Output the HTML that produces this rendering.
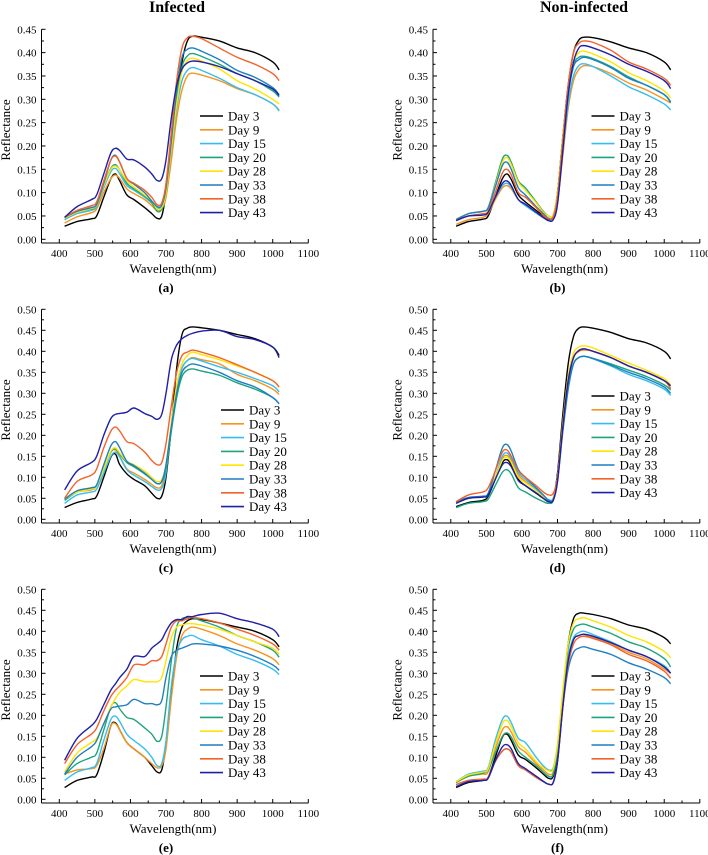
<!DOCTYPE html>
<html><head><meta charset="utf-8">
<style>
html,body{margin:0;padding:0;background:#fff;}
svg{display:block;}
svg text{font-family:"Liberation Serif","DejaVu Serif",serif;}
</style></head>
<body>
<svg id="fig" width="708" height="855" viewBox="0 0 708 855" xmlns="http://www.w3.org/2000/svg" font-family="'Liberation Serif', serif">
<text x="177" y="12" text-anchor="middle" font-size="16" font-weight="bold" font-family="'Liberation Serif', serif">Infected</text>
<text x="584" y="12" text-anchor="middle" font-size="16" font-weight="bold" font-family="'Liberation Serif', serif">Non-infected</text>
</svg>
<script>
const wavelengths = [415,450,490,505,525,545,558,570,590,610,640,660,675,688,700,715,730,745,760,775,800,850,900,950,1000,1018];
const dayLabels = ["Day 3","Day 9","Day 15","Day 20","Day 28","Day 33","Day 38","Day 43"];
const dayColors = ["#000000","#f7941d","#36bdf0","#1ca57c","#ffe400","#1f7fc4","#f2622a","#1f1fa8"];
const xTicks = [400,500,600,700,800,900,1000,1100];

const panelA = [
[0.028,0.038,0.044,0.05,0.09,0.13,0.14,0.125,0.095,0.085,0.068,0.055,0.045,0.05,0.1,0.2,0.3,0.38,0.425,0.435,0.433,0.425,0.41,0.4,0.38,0.363],
[0.035,0.048,0.057,0.065,0.1,0.13,0.138,0.13,0.108,0.098,0.085,0.072,0.062,0.065,0.09,0.17,0.26,0.32,0.35,0.356,0.352,0.34,0.323,0.31,0.29,0.277],
[0.042,0.055,0.062,0.07,0.11,0.145,0.152,0.14,0.115,0.105,0.09,0.078,0.068,0.07,0.1,0.19,0.28,0.34,0.362,0.368,0.362,0.345,0.325,0.31,0.29,0.275],
[0.045,0.058,0.065,0.072,0.115,0.152,0.16,0.148,0.12,0.108,0.093,0.078,0.06,0.065,0.1,0.2,0.3,0.37,0.393,0.398,0.392,0.375,0.355,0.34,0.318,0.305],
[0.045,0.058,0.066,0.073,0.115,0.15,0.157,0.148,0.125,0.112,0.095,0.082,0.065,0.068,0.1,0.195,0.29,0.36,0.383,0.388,0.382,0.365,0.34,0.322,0.3,0.29],
[0.047,0.06,0.068,0.075,0.12,0.17,0.18,0.165,0.13,0.118,0.1,0.082,0.07,0.073,0.11,0.21,0.32,0.39,0.407,0.41,0.403,0.385,0.362,0.347,0.325,0.31],
[0.047,0.062,0.072,0.08,0.125,0.17,0.178,0.165,0.13,0.12,0.105,0.09,0.074,0.078,0.12,0.23,0.34,0.41,0.432,0.435,0.43,0.41,0.39,0.375,0.355,0.34],
[0.047,0.07,0.085,0.095,0.14,0.185,0.195,0.19,0.172,0.17,0.155,0.14,0.126,0.13,0.17,0.26,0.33,0.365,0.378,0.382,0.38,0.37,0.355,0.34,0.322,0.308]];
const panelB = [
[0.028,0.038,0.043,0.05,0.09,0.13,0.14,0.128,0.095,0.08,0.062,0.05,0.042,0.05,0.1,0.22,0.33,0.4,0.427,0.433,0.432,0.423,0.41,0.4,0.38,0.363],
[0.032,0.042,0.047,0.055,0.085,0.11,0.115,0.108,0.085,0.075,0.058,0.048,0.04,0.045,0.08,0.18,0.28,0.34,0.364,0.372,0.37,0.355,0.335,0.32,0.3,0.292],
[0.042,0.055,0.06,0.065,0.09,0.115,0.12,0.112,0.085,0.072,0.056,0.046,0.04,0.045,0.085,0.19,0.29,0.35,0.372,0.376,0.37,0.35,0.327,0.31,0.29,0.277],
[0.043,0.055,0.06,0.068,0.12,0.172,0.18,0.165,0.125,0.11,0.08,0.06,0.05,0.052,0.1,0.22,0.32,0.375,0.39,0.392,0.387,0.37,0.348,0.33,0.31,0.295],
[0.043,0.055,0.06,0.067,0.115,0.165,0.175,0.16,0.122,0.105,0.078,0.058,0.05,0.052,0.1,0.22,0.32,0.38,0.4,0.403,0.397,0.38,0.357,0.34,0.318,0.303],
[0.042,0.055,0.06,0.067,0.112,0.158,0.165,0.15,0.11,0.095,0.07,0.055,0.045,0.048,0.09,0.21,0.31,0.37,0.385,0.39,0.385,0.368,0.345,0.33,0.31,0.293],
[0.04,0.05,0.055,0.06,0.1,0.142,0.15,0.138,0.1,0.09,0.068,0.052,0.044,0.048,0.09,0.21,0.33,0.4,0.42,0.425,0.422,0.405,0.38,0.365,0.345,0.33],
[0.04,0.05,0.052,0.058,0.09,0.12,0.125,0.115,0.085,0.075,0.058,0.047,0.04,0.042,0.075,0.19,0.31,0.38,0.41,0.415,0.41,0.395,0.375,0.36,0.34,0.323]];
const panelC = [
[0.028,0.04,0.048,0.055,0.1,0.148,0.155,0.13,0.108,0.095,0.08,0.062,0.05,0.055,0.1,0.22,0.36,0.44,0.455,0.458,0.456,0.45,0.44,0.43,0.41,0.39],
[0.048,0.065,0.07,0.08,0.12,0.16,0.165,0.15,0.12,0.11,0.095,0.083,0.075,0.08,0.12,0.22,0.31,0.36,0.378,0.385,0.38,0.37,0.345,0.33,0.31,0.297],
[0.038,0.058,0.065,0.072,0.11,0.15,0.16,0.148,0.118,0.105,0.09,0.078,0.07,0.074,0.11,0.22,0.31,0.36,0.378,0.383,0.377,0.363,0.35,0.335,0.318,0.303],
[0.045,0.065,0.075,0.08,0.12,0.16,0.168,0.155,0.135,0.125,0.108,0.095,0.085,0.09,0.12,0.21,0.29,0.34,0.355,0.358,0.353,0.343,0.325,0.31,0.29,0.275],
[0.048,0.065,0.072,0.08,0.12,0.162,0.17,0.158,0.138,0.13,0.115,0.1,0.09,0.095,0.13,0.23,0.32,0.37,0.39,0.398,0.392,0.38,0.365,0.35,0.33,0.315],
[0.048,0.068,0.075,0.082,0.13,0.175,0.185,0.17,0.138,0.128,0.11,0.095,0.085,0.09,0.13,0.22,0.3,0.35,0.365,0.37,0.365,0.35,0.33,0.315,0.29,0.275],
[0.05,0.09,0.105,0.12,0.17,0.21,0.22,0.21,0.185,0.18,0.16,0.14,0.13,0.135,0.18,0.27,0.35,0.39,0.398,0.403,0.398,0.385,0.368,0.35,0.33,0.315],
[0.07,0.115,0.135,0.15,0.2,0.24,0.25,0.252,0.255,0.265,0.252,0.245,0.238,0.25,0.3,0.38,0.415,0.43,0.438,0.443,0.448,0.45,0.435,0.428,0.41,0.385]];
const panelD = [
[0.03,0.04,0.045,0.055,0.095,0.135,0.142,0.13,0.095,0.08,0.062,0.05,0.042,0.05,0.11,0.25,0.37,0.435,0.455,0.458,0.455,0.445,0.43,0.42,0.4,0.382],
[0.04,0.05,0.055,0.06,0.1,0.145,0.152,0.14,0.105,0.09,0.07,0.055,0.045,0.05,0.1,0.22,0.33,0.385,0.4,0.403,0.4,0.385,0.365,0.35,0.33,0.31],
[0.04,0.05,0.053,0.058,0.1,0.15,0.158,0.145,0.11,0.095,0.072,0.057,0.047,0.05,0.1,0.21,0.31,0.37,0.385,0.388,0.382,0.365,0.345,0.33,0.31,0.295],
[0.028,0.038,0.042,0.048,0.08,0.112,0.118,0.108,0.075,0.065,0.05,0.042,0.038,0.045,0.1,0.22,0.32,0.37,0.385,0.388,0.383,0.37,0.355,0.34,0.32,0.308],
[0.038,0.05,0.053,0.06,0.1,0.14,0.148,0.135,0.1,0.087,0.068,0.053,0.043,0.05,0.1,0.23,0.34,0.395,0.41,0.413,0.408,0.39,0.372,0.355,0.335,0.32],
[0.042,0.052,0.055,0.062,0.115,0.17,0.178,0.162,0.118,0.1,0.075,0.058,0.045,0.048,0.09,0.21,0.31,0.37,0.385,0.388,0.383,0.367,0.35,0.335,0.315,0.3],
[0.042,0.058,0.065,0.075,0.115,0.16,0.165,0.15,0.115,0.1,0.08,0.065,0.058,0.062,0.1,0.22,0.33,0.385,0.4,0.405,0.4,0.385,0.365,0.35,0.33,0.312],
[0.038,0.05,0.053,0.058,0.095,0.13,0.135,0.125,0.092,0.08,0.063,0.05,0.042,0.045,0.09,0.22,0.33,0.385,0.402,0.406,0.4,0.385,0.365,0.35,0.33,0.318]];
const panelE = [
[0.028,0.045,0.053,0.058,0.11,0.175,0.182,0.165,0.135,0.12,0.1,0.08,0.065,0.07,0.13,0.25,0.36,0.41,0.425,0.43,0.428,0.42,0.41,0.4,0.38,0.363],
[0.06,0.07,0.073,0.08,0.12,0.175,0.18,0.165,0.135,0.12,0.1,0.085,0.075,0.08,0.12,0.24,0.34,0.39,0.405,0.41,0.405,0.39,0.37,0.355,0.335,0.32],
[0.045,0.065,0.075,0.085,0.14,0.19,0.198,0.185,0.155,0.14,0.12,0.1,0.08,0.085,0.14,0.27,0.35,0.38,0.388,0.39,0.38,0.365,0.345,0.33,0.31,0.297],
[0.058,0.085,0.1,0.11,0.165,0.22,0.23,0.215,0.195,0.19,0.17,0.155,0.138,0.15,0.22,0.33,0.41,0.43,0.433,0.432,0.425,0.41,0.39,0.375,0.355,0.338],
[0.065,0.11,0.135,0.145,0.18,0.22,0.24,0.255,0.27,0.285,0.28,0.28,0.28,0.29,0.33,0.385,0.41,0.415,0.418,0.418,0.415,0.405,0.39,0.375,0.36,0.345],
[0.06,0.1,0.125,0.14,0.18,0.215,0.22,0.222,0.225,0.238,0.228,0.228,0.225,0.235,0.29,0.34,0.355,0.36,0.365,0.37,0.37,0.365,0.355,0.34,0.32,0.307],
[0.085,0.13,0.155,0.17,0.21,0.245,0.26,0.27,0.29,0.32,0.32,0.33,0.33,0.34,0.37,0.41,0.425,0.425,0.43,0.433,0.43,0.42,0.405,0.39,0.37,0.355],
[0.093,0.145,0.175,0.19,0.225,0.26,0.275,0.29,0.31,0.34,0.34,0.36,0.37,0.38,0.4,0.42,0.428,0.428,0.435,0.435,0.44,0.443,0.43,0.42,0.405,0.387]];
const panelF = [
[0.028,0.04,0.045,0.052,0.1,0.148,0.155,0.14,0.105,0.095,0.075,0.06,0.05,0.055,0.11,0.25,0.37,0.43,0.443,0.443,0.44,0.43,0.415,0.405,0.385,0.37],
[0.04,0.055,0.06,0.065,0.12,0.165,0.173,0.16,0.125,0.112,0.085,0.07,0.06,0.065,0.12,0.24,0.33,0.38,0.39,0.392,0.385,0.37,0.35,0.335,0.31,0.3],
[0.042,0.06,0.067,0.075,0.14,0.19,0.198,0.182,0.145,0.135,0.1,0.08,0.07,0.075,0.13,0.25,0.34,0.385,0.397,0.4,0.392,0.375,0.355,0.34,0.318,0.3],
[0.04,0.055,0.062,0.07,0.11,0.15,0.158,0.148,0.115,0.1,0.08,0.065,0.055,0.06,0.12,0.25,0.36,0.405,0.415,0.417,0.41,0.395,0.375,0.36,0.335,0.315],
[0.042,0.058,0.065,0.072,0.13,0.18,0.188,0.172,0.135,0.12,0.09,0.075,0.068,0.072,0.13,0.26,0.37,0.42,0.43,0.432,0.425,0.41,0.39,0.375,0.352,0.337],
[0.035,0.045,0.048,0.052,0.09,0.115,0.12,0.112,0.08,0.07,0.052,0.042,0.036,0.04,0.09,0.22,0.31,0.35,0.36,0.363,0.357,0.345,0.325,0.31,0.29,0.275],
[0.035,0.045,0.048,0.052,0.09,0.115,0.12,0.112,0.08,0.07,0.052,0.042,0.036,0.04,0.09,0.22,0.32,0.37,0.385,0.388,0.383,0.368,0.345,0.33,0.305,0.288],
[0.03,0.042,0.045,0.05,0.092,0.125,0.13,0.12,0.085,0.073,0.055,0.043,0.036,0.04,0.09,0.22,0.33,0.38,0.39,0.393,0.388,0.373,0.355,0.34,0.315,0.3]];

const panelLetters = ["(a)","(b)","(c)","(d)","(e)","(f)"];
const panelYMax = [0.45,0.45,0.50,0.50,0.50,0.50];
const panelSeries = [panelA,panelB,panelC,panelD,panelE,panelF];

const NS = "http://www.w3.org/2000/svg";
const SERIF = "'Liberation Serif', serif";
const svg = document.getElementById('fig');
function mk(tag, attrs, parent){
  const e = document.createElementNS(NS, tag);
  for (const k in attrs) e.setAttribute(k, attrs[k]);
  if (tag === 'text') e.setAttribute('font-family', SERIF);
  (parent||svg).appendChild(e);
  return e;
}
function smoothPath(pts){
  let d = "M"+pts[0][0].toFixed(2)+","+pts[0][1].toFixed(2);
  for (let i=0;i<pts.length-1;i++){
    const p0=pts[Math.max(0,i-1)], p1=pts[i], p2=pts[i+1], p3=pts[Math.min(pts.length-1,i+2)];
    const c1x=p1[0]+(p2[0]-p0[0])/6, c1y=p1[1]+(p2[1]-p0[1])/6;
    const c2x=p2[0]-(p3[0]-p1[0])/6, c2y=p2[1]-(p3[1]-p1[1])/6;
    d += " C"+c1x.toFixed(2)+","+c1y.toFixed(2)+" "+c2x.toFixed(2)+","+c2y.toFixed(2)+" "+p2[0].toFixed(2)+","+p2[1].toFixed(2);
  }
  return d;
}

for (let p=0;p<6;p++){
  const ox = (p%2===0) ? 0 : 391.5;
  const oy = Math.floor(p/2)*280;
  const ymax = panelYMax[p];
  const axL = ox+41.5, axR = ox+308.3;
  const yTop = oy+29.3, yZero = oy+239.3, axB = oy+243;
  const xs = w => axL + (w-350)/(1100-350)*(axR-axL);
  const ys = v => yZero - v/ymax*(yZero-yTop);
  const g = mk('g', {});
  
  

  const xa = mk('line',{x1:axL,y1:axB,x2:axR,y2:axB,stroke:'#000','stroke-width':1},g);
  
  
  const ya = mk('line',{x1:axL,y1:yTop,x2:axL,y2:axB,stroke:'#000','stroke-width':1},g);
  
  

  for (let w=350; w<=1100; w+=50){
    const major = (w%100===0);
    mk('line',{x1:xs(w),y1:axB,x2:xs(w),y2:axB-(major?4:2.5),stroke:'#000','stroke-width':1},g);
  }
  xTicks.forEach(t=>{
    const tl = mk('text',{x:xs(t),y:oy+257,'text-anchor':'middle','font-size':11},g);
    tl.textContent = t;
    
    
  });
  const nT = Math.round(ymax/0.05);
  for (let i=0;i<=nT*2;i++){
    const v=i*0.025, major=(i%2===0);
    mk('line',{x1:axL,y1:ys(v),x2:axL+(major?4:2.5),y2:ys(v),stroke:'#000','stroke-width':1},g);
  }
  for (let i=0;i<=nT;i++){
    const v=i*0.05;
    const tl = mk('text',{x:axL-5,y:ys(v)+4,'text-anchor':'end','font-size':11},g);
    tl.textContent = v.toFixed(2);
    
    
  }
  const yt = mk('text',{x:0,y:0,'text-anchor':'middle','font-size':13,transform:'translate('+(ox+10)+','+(oy+130)+') rotate(-90)'},g);
  yt.textContent = 'Reflectance';
  
  
  const xt = mk('text',{x:ox+173,y:oy+273,'text-anchor':'middle','font-size':13},g);
  xt.textContent = 'Wavelength(nm)';
  
  
  const pl = mk('text',{x:ox+166,y:oy+292,'text-anchor':'middle','font-size':13,'font-weight':'bold'},g);
  pl.textContent = panelLetters[p];
  
  

  const series = panelSeries[p];
  series.forEach((vals,si)=>{
    const pts = vals.map((v,i)=>[xs(wavelengths[i]), ys(v)]);
    const path = mk('path',{d:smoothPath(pts),fill:'none',stroke:dayColors[si],'stroke-width':1.4,'stroke-linejoin':'round'},g);
    
    
  });

  const lx = axL + (p===2 ? 179.5 : 158.5);
  const ly0 = oy + (p===2 ? 130 : 116);
  const lg = mk('g',{},g);
  
  
  dayLabels.forEach((lab,si)=>{
    const y = ly0 + si*13.8;
    const ll = mk('line',{x1:lx,y1:y,x2:lx+23,y2:y,stroke:dayColors[si],'stroke-width':1.6},lg);
    
    
    const lt = mk('text',{x:lx+28,y:y+4.5,'font-size':13},lg);
    lt.textContent = lab;
    
    
  });
}
</script>
</body></html>
